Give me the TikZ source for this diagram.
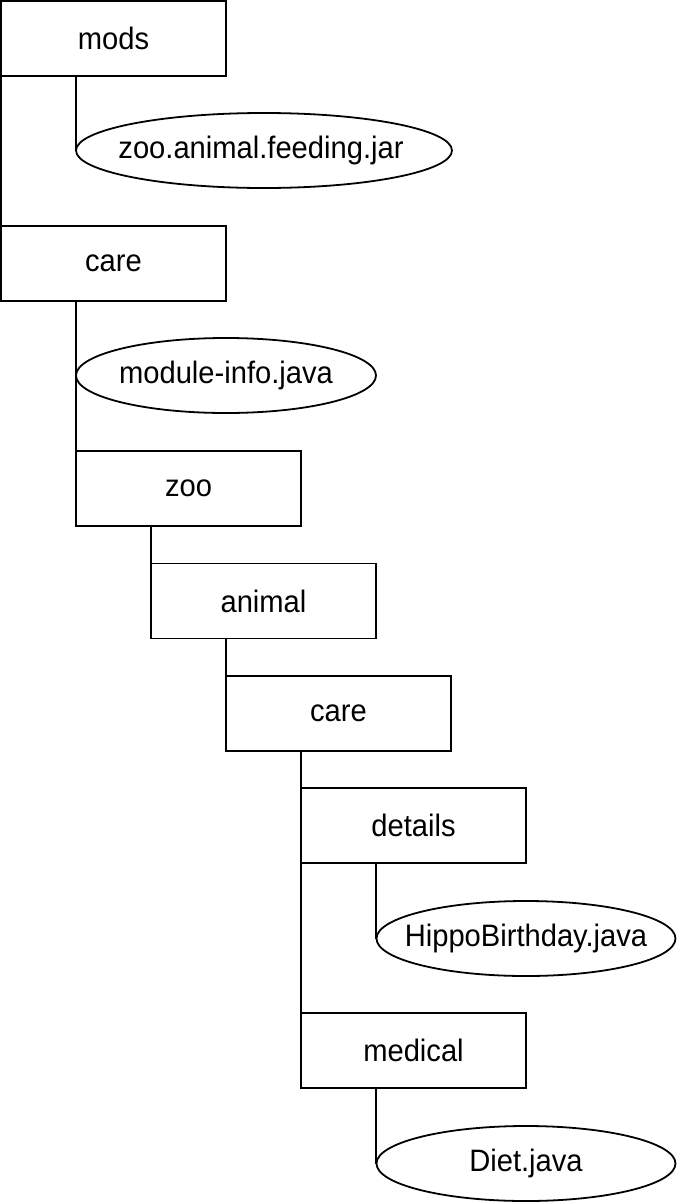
\documentclass[tikz,border=0pt]{standalone}
\usepackage{fontspec}
\setmainfont{Liberation Sans}[FakeStretch=0.94]
\usetikzlibrary{shapes.geometric}
\begin{document}
\begin{tikzpicture}[x=1pt,y=-1pt,
  line width=1.8pt,
  every node/.style={font=\fontsize{31}{34}\selectfont, inner sep=0pt, outer sep=0pt},
  every label/.style={font=\fontsize{31}{34}\selectfont, inner sep=0pt},
  dirbox/.style={draw, rectangle, minimum width=225pt, minimum height=75pt},
  filebox/.style={draw, ellipse, minimum height=75pt},
  link/.style={draw, line width=1.8pt}]
\useasboundingbox (0,0) rectangle (677,1202);
% directories
\node[dirbox] (mods)    at (113.5,38.5)  {mods};
\node[dirbox] (care1)   at (113.5,263.5) {care};
\node[dirbox] (zoo)     at (188.5,488.5) {zoo};
\node[dirbox] (animal)  at (263.5,601)   {animal};
\node[dirbox] (care2)   at (338.5,713.5) {care};
\node[dirbox] (details) at (413.5,825.5) {details};
\node[dirbox] (medical) at (413.5,1050.5){medical};
% files
\node[filebox, minimum width=376pt, label={[xshift=-3pt]center:zoo.animal.feeding.jar}] (jar) at (264,150.5) {};
\node[filebox, minimum width=300pt, label={center:module-info.java}] (minfo) at (226,375.5) {};
\node[filebox, minimum width=299pt, label={center:HippoBirthday.java}] (hippo) at (526,938.5) {};
\node[filebox, minimum width=299pt, label={center:Diet.java}] (diet) at (526,1163.5) {};
% connectors
\draw[link] (mods.south west) -- (care1.north west);
\draw[link] ([xshift=75pt]mods.south west) |- (jar.west);
\draw[link] ([xshift=75pt]care1.south west) -- (zoo.north west);
\draw[link] ([xshift=75pt]zoo.south west) -- (animal.north west);
\draw[link] ([xshift=75pt]animal.south west) -- (care2.north west);
\draw[link] ([xshift=75pt]care2.south west) -- (medical.north west);
\draw[link] ([xshift=75pt]details.south west) |- (hippo.west);
\draw[link] ([xshift=75pt]medical.south west) |- (diet.west);
\end{tikzpicture}
\end{document}
